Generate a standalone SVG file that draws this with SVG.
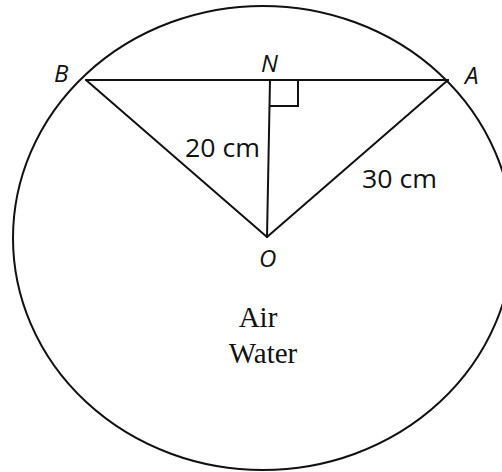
<svg xmlns="http://www.w3.org/2000/svg" width="502" height="472" viewBox="0 0 502 472">
<style>
.ln{stroke:#111;stroke-width:2;fill:none;stroke-linecap:round}
.pt{font-family:"Open Sans","Liberation Sans",sans-serif;font-style:italic;font-size:24px;fill:#111}
.lb{font-family:"Open Sans","Liberation Sans",sans-serif;font-size:26px;fill:#111}
.tx{font-family:"Liberation Serif",serif;font-size:29px;fill:#111}
</style>
<rect width="502" height="472" fill="#fff"/>
<g id="circle"><ellipse class="ln" cx="263" cy="238" rx="250" ry="232"/></g>
<g id="connectors">
<line class="ln" x1="86" y1="80" x2="448" y2="80"/>
<line class="ln" x1="86" y1="80" x2="267" y2="237"/>
<line class="ln" x1="448" y1="80" x2="267" y2="237"/>
<line class="ln" x1="270" y1="80" x2="267" y2="237"/>
<polyline class="ln" points="270,106 298,106 298,80"/>
</g>
<g id="B"><text class="pt" x="54" y="82">B</text></g>
<g id="N"><text class="pt" x="261" y="72">N</text></g>
<g id="A"><text class="pt" x="465" y="84">A</text></g>
<g id="O"><text class="pt" x="259" y="267">O</text></g>
<g id="labels">
<text class="lb" x="185" y="157" textLength="75" lengthAdjust="spacingAndGlyphs">20 cm</text>
<text class="lb" x="362" y="188" textLength="75" lengthAdjust="spacingAndGlyphs">30 cm</text>
<text class="tx" x="258" y="327" text-anchor="middle">Air</text>
<text class="tx" x="263" y="363" text-anchor="middle">Water</text>
</g>
</svg>
